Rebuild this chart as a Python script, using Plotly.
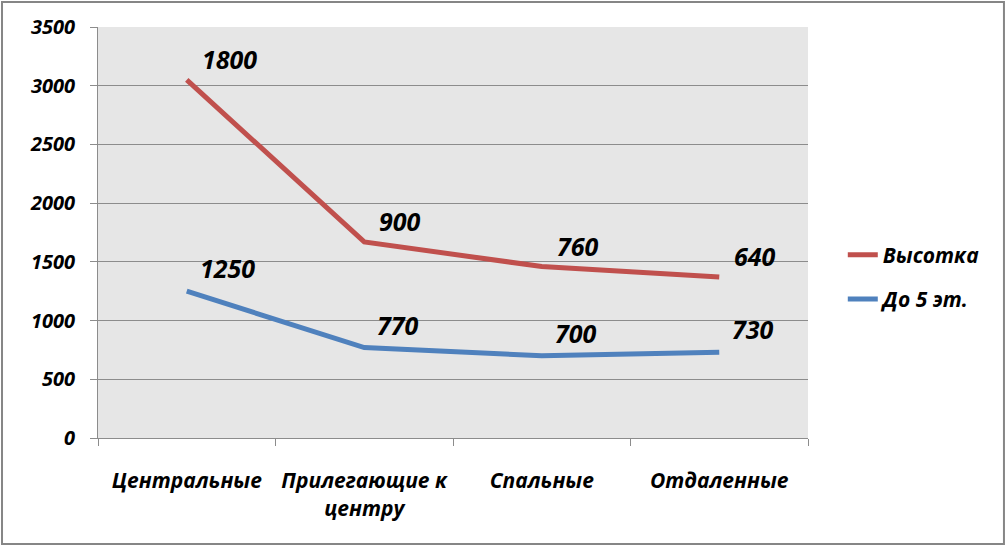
import plotly.graph_objects as go

categories = ["Центральные", "Прилегающие к<br>центру", "Спальные", "Отдаленные"]
vysotka = [1800, 900, 760, 640]
do5 = [1250, 770, 700, 730]

FONT = "Open Sans"
RED = "#C0504D"
BLUE = "#4F81BD"

# stacked totals for label placement
stacked_top = [a + b for a, b in zip(do5, vysotka)]

fig = go.Figure()
fig.add_trace(go.Scatter(x=categories, y=do5, name="До 5 эт.", mode="lines",
                         stackgroup="s", fill="none", legendgroup="b", legendrank=2,
                         line=dict(color=BLUE, width=5)))
fig.add_trace(go.Scatter(x=categories, y=vysotka, name="Высотка", mode="lines",
                         stackgroup="s", fill="none", legendgroup="a", legendrank=1,
                         line=dict(color=RED, width=5)))

labelfont = dict(family=FONT, size=25, color="black", style="italic", weight="bold")
for cat, base in zip(categories, do5):
    fig.add_annotation(x=cat, y=base, text=str(base), showarrow=False,
                       xanchor="left", yanchor="middle", xshift=11, yshift=23,
                       font=labelfont)
for cat, top, val in zip(categories, stacked_top, vysotka):
    fig.add_annotation(x=cat, y=top, text=str(val), showarrow=False,
                       xanchor="left", yanchor="middle", xshift=13, yshift=21,
                       font=labelfont)

# outer chart border
fig.add_shape(type="rect", xref="paper", yref="paper",
              x0=-0.1352, x1=1.276, y0=-0.258, y1=1.0608,
              line=dict(color="#868686", width=2))

tickfont = dict(family=FONT, size=20, color="black", style="italic", weight="bold")
fig.update_layout(
    width=1007, height=547,
    margin=dict(l=98, r=199, t=27, b=109),
    paper_bgcolor="white",
    plot_bgcolor="#e6e6e6",
    showlegend=True,
    legend=dict(x=1.049, y=0.495, xanchor="left", yanchor="top",
                traceorder="grouped", tracegroupgap=14,
                font=dict(family=FONT, size=21, color="black", style="italic", weight="bold"),
                bgcolor="rgba(0,0,0,0)"),
    xaxis=dict(type="category", range=[-0.5, 3.5], tickson="boundaries",
               ticks="outside", ticklen=7, tickcolor="#8c8c8c",
               showline=True, linecolor="#8c8c8c", linewidth=1,
               showgrid=False, tickfont=dict(tickfont, size=21), ticklabelstandoff=24),
    yaxis=dict(range=[0, 3500], dtick=500, ticks="outside", ticklen=7,
               tickcolor="#8c8c8c", showline=True, linecolor="#8c8c8c",
               gridcolor="#8c8c8c", gridwidth=1, zeroline=False,
               tickfont=tickfont, ticklabelstandoff=11),
)

fig.write_html("out.html", config={"displayModeBar": False},
               post_script="document.body.style.margin='0';")
